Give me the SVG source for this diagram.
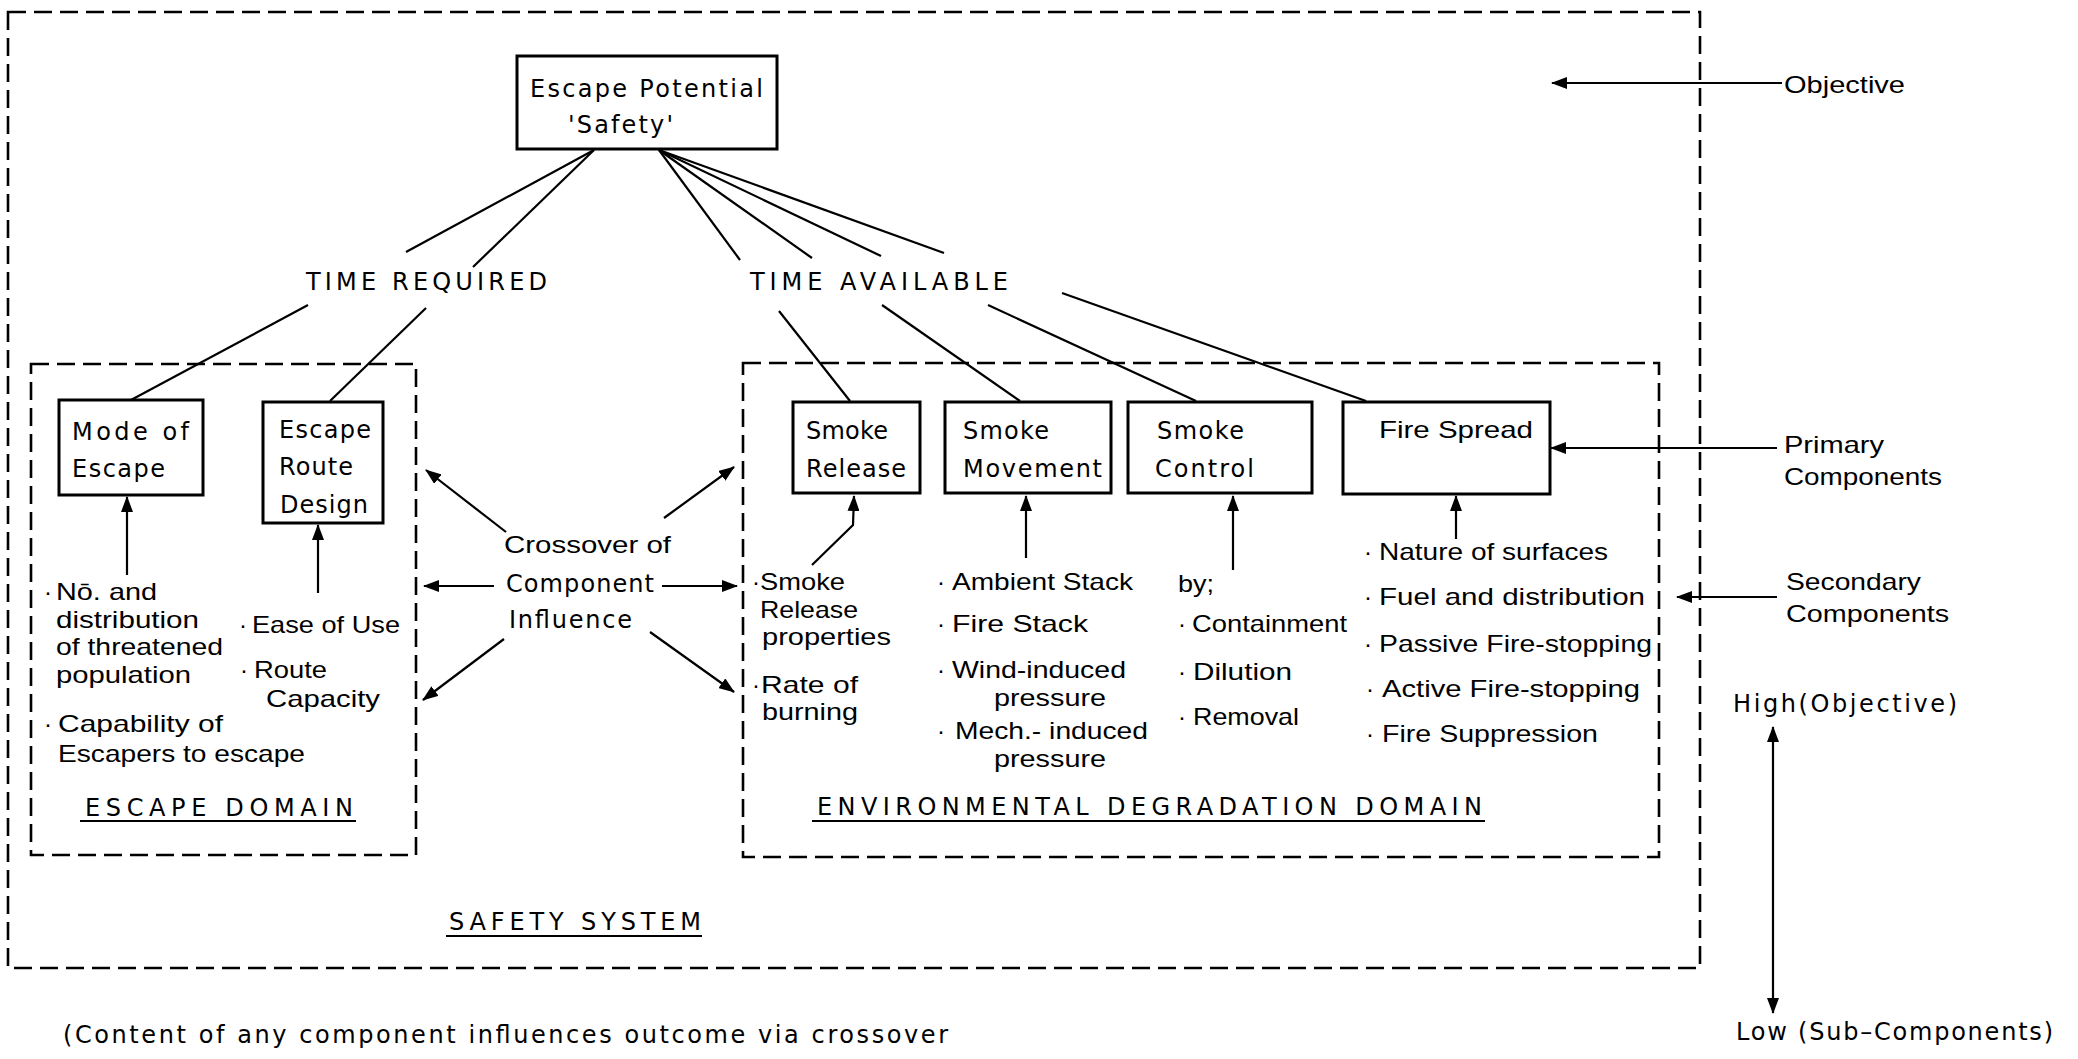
<svg xmlns="http://www.w3.org/2000/svg" width="2078" height="1059" viewBox="0 0 2078 1059">
<style>
  .dash { fill: none; stroke: #000; stroke-width: 2.6; stroke-dasharray: 18 8; }
  .box { fill: #fff; stroke: #000; stroke-width: 3; }
  .ln { fill: none; stroke: #000; stroke-width: 2.2; }
  .arr { fill: none; stroke: #000; stroke-width: 2.2; marker-end: url(#ah); }
  .f { font-family: "DejaVu Sans", "Liberation Sans", sans-serif; font-size: 24px; fill: #000; }
  .h { font-family: "Liberation Sans", Arial, sans-serif; font-size: 24px; fill: #000; }
  .ul { stroke: #000; stroke-width: 2; }
</style>
<defs>
  <marker id="ah" viewBox="0 0 16 12" refX="15" refY="6" markerWidth="16" markerHeight="12" markerUnits="userSpaceOnUse" orient="auto-start-reverse">
    <path d="M0,0 L16,6 L0,12 z" fill="#000"/>
  </marker>
</defs>
<rect width="2078" height="1059" fill="#fff"/>

<!-- domain frames -->
<g id="safety-system">
  <rect class="dash" x="8" y="12" width="1692" height="956"/>
  <text class="f" x="449" y="930" textLength="252" lengthAdjust="spacing">SAFETY SYSTEM</text>
  <line class="ul" x1="446" y1="936" x2="702" y2="936"/>
</g>
<g id="escape-domain">
  <rect class="dash" x="31" y="364" width="385" height="491"/>
  <text class="f" x="85" y="816" textLength="268" lengthAdjust="spacing">ESCAPE DOMAIN</text>
  <line class="ul" x1="80" y1="821" x2="356" y2="821"/>
</g>
<g id="environmental-domain">
  <rect class="dash" x="743" y="363" width="916" height="494"/>
  <text class="f" x="817" y="815" textLength="665" lengthAdjust="spacing">ENVIRONMENTAL DEGRADATION DOMAIN</text>
  <line class="ul" x1="812" y1="821" x2="1485" y2="821"/>
</g>

<!-- connectors -->
<g id="connectors">
  <line class="ln" x1="594" y1="150" x2="406" y2="252"/>
  <line class="ln" x1="594" y1="150" x2="473" y2="267"/>
  <line class="ln" x1="659" y1="150" x2="740" y2="260"/>
  <line class="ln" x1="659" y1="150" x2="812" y2="258"/>
  <line class="ln" x1="659" y1="150" x2="881" y2="256"/>
  <line class="ln" x1="659" y1="150" x2="944" y2="253"/>
  <line class="ln" x1="308" y1="305" x2="131" y2="400"/>
  <line class="ln" x1="426" y1="308" x2="330" y2="401"/>
  <line class="ln" x1="779" y1="311" x2="850" y2="401"/>
  <line class="ln" x1="882" y1="305" x2="1020" y2="401"/>
  <line class="ln" x1="988" y1="305" x2="1196" y2="401"/>
  <line class="ln" x1="1062" y1="293" x2="1366" y2="401"/>
  <!-- secondary components feeding the primary ones -->
  <line class="arr" x1="127" y1="575" x2="127" y2="497"/>
  <line class="arr" x1="318" y1="593" x2="318" y2="525"/>
  <polyline class="arr" points="812,565 853,525 854,496"/>
  <line class="arr" x1="1026" y1="558" x2="1026" y2="496"/>
  <line class="arr" x1="1233" y1="570" x2="1233" y2="496"/>
  <line class="arr" x1="1456" y1="539" x2="1456" y2="496"/>
  <!-- crossover of component influence -->
  <line class="arr" x1="506" y1="532" x2="426" y2="470"/>
  <line class="arr" x1="664" y1="518" x2="734" y2="467"/>
  <line class="arr" x1="494" y1="586" x2="424" y2="586"/>
  <line class="arr" x1="662" y1="586" x2="737" y2="586"/>
  <line class="arr" x1="504" y1="639" x2="423" y2="700"/>
  <line class="arr" x1="650" y1="632" x2="734" y2="692"/>
  <!-- level legend -->
  <line class="arr" x1="1782" y1="83" x2="1552" y2="83"/>
  <line class="arr" x1="1777" y1="448" x2="1551" y2="448"/>
  <line class="arr" x1="1777" y1="597" x2="1677" y2="597"/>
  <line class="arr" x1="1773" y1="1013" x2="1773" y2="727" style="marker-start:url(#ah)"/>
</g>

<!-- objective -->
<g id="escape-potential">
  <rect class="box" x="517" y="56" width="260" height="93"/>
  <text class="f" x="530" y="97" textLength="233" lengthAdjust="spacing">Escape Potential</text>
  <text class="f" x="568" y="133" textLength="105" lengthAdjust="spacing">'Safety'</text>
</g>
<g id="time-required">
  <text class="f" x="306" y="290" textLength="241" lengthAdjust="spacing">TIME  REQUIRED</text>
</g>
<g id="time-available">
  <text class="f" x="750" y="290" textLength="258" lengthAdjust="spacing">TIME  AVAILABLE</text>
</g>

<!-- primary components -->
<g id="mode-of-escape">
  <rect class="box" x="59" y="400" width="144" height="95"/>
  <text class="f" x="72" y="440" textLength="117" lengthAdjust="spacing">Mode of</text>
  <text class="f" x="72" y="477" textLength="93" lengthAdjust="spacing">Escape</text>
</g>
<g id="escape-route-design">
  <rect class="box" x="263" y="402" width="120" height="121"/>
  <text class="f" x="279" y="438" textLength="92" lengthAdjust="spacing">Escape</text>
  <text class="f" x="279" y="475" textLength="74" lengthAdjust="spacing">Route</text>
  <text class="f" x="280" y="513" textLength="88" lengthAdjust="spacing">Design</text>
</g>
<g id="smoke-release">
  <rect class="box" x="793" y="402" width="127" height="91"/>
  <text class="f" x="806" y="439" textLength="82" lengthAdjust="spacing">Smoke</text>
  <text class="f" x="806" y="477" textLength="100" lengthAdjust="spacing">Release</text>
</g>
<g id="smoke-movement">
  <rect class="box" x="945" y="402" width="166" height="91"/>
  <text class="f" x="963" y="439" textLength="86" lengthAdjust="spacing">Smoke</text>
  <text class="f" x="963" y="477" textLength="139" lengthAdjust="spacing">Movement</text>
</g>
<g id="smoke-control">
  <rect class="box" x="1128" y="402" width="184" height="91"/>
  <text class="f" x="1157" y="439" textLength="87" lengthAdjust="spacing">Smoke</text>
  <text class="f" x="1155" y="477" textLength="99" lengthAdjust="spacing">Control</text>
</g>
<g id="fire-spread">
  <rect class="box" x="1343" y="402" width="207" height="92"/>
  <text class="h" x="1379" y="438" textLength="154" lengthAdjust="spacingAndGlyphs">Fire  Spread</text>
</g>

<!-- crossover label -->
<g id="crossover">
  <text class="h" x="504" y="553" textLength="167" lengthAdjust="spacingAndGlyphs">Crossover of</text>
  <text class="f" x="506" y="592" textLength="148" lengthAdjust="spacing">Component</text>
  <text class="f" x="509" y="628" textLength="123" lengthAdjust="spacing">Influence</text>
</g>

<!-- secondary components -->
<g id="mode-factors" class="h">
  <text x="44" y="600">·</text>
  <text x="56" y="600" textLength="101" lengthAdjust="spacingAndGlyphs">Nō. and</text>
  <text x="56" y="628" textLength="143" lengthAdjust="spacingAndGlyphs">distribution</text>
  <text x="56" y="655" textLength="167" lengthAdjust="spacingAndGlyphs">of threatened</text>
  <text x="56" y="683" textLength="135" lengthAdjust="spacingAndGlyphs">population</text>
  <text x="44" y="732">·</text>
  <text x="58" y="732" textLength="165" lengthAdjust="spacingAndGlyphs">Capability of</text>
  <text x="58" y="762" textLength="247" lengthAdjust="spacingAndGlyphs">Escapers to escape</text>
</g>
<g id="route-factors" class="h">
  <text x="239" y="633">·</text>
  <text x="252" y="633" textLength="148" lengthAdjust="spacingAndGlyphs">Ease of Use</text>
  <text x="240" y="678">·</text>
  <text x="254" y="678" textLength="73" lengthAdjust="spacingAndGlyphs">Route</text>
  <text x="266" y="707" textLength="114" lengthAdjust="spacingAndGlyphs">Capacity</text>
</g>
<g id="release-factors" class="h">
  <text x="752" y="590">·</text>
  <text x="760" y="590" textLength="85" lengthAdjust="spacingAndGlyphs">Smoke</text>
  <text x="760" y="618" textLength="98" lengthAdjust="spacingAndGlyphs">Release</text>
  <text x="762" y="645" textLength="129" lengthAdjust="spacingAndGlyphs">properties</text>
  <text x="752" y="693">·</text>
  <text x="761" y="693" textLength="97" lengthAdjust="spacingAndGlyphs">Rate  of</text>
  <text x="762" y="720" textLength="96" lengthAdjust="spacingAndGlyphs">burning</text>
</g>
<g id="movement-factors" class="h">
  <text x="937" y="590">·</text>
  <text x="952" y="590" textLength="181" lengthAdjust="spacingAndGlyphs">Ambient Stack</text>
  <text x="937" y="632">·</text>
  <text x="952" y="632" textLength="136" lengthAdjust="spacingAndGlyphs">Fire  Stack</text>
  <text x="937" y="678">·</text>
  <text x="952" y="678" textLength="174" lengthAdjust="spacingAndGlyphs">Wind-induced</text>
  <text x="994" y="706" textLength="112" lengthAdjust="spacingAndGlyphs">pressure</text>
  <text x="937" y="739">·</text>
  <text x="955" y="739" textLength="193" lengthAdjust="spacingAndGlyphs">Mech.- induced</text>
  <text x="994" y="767" textLength="112" lengthAdjust="spacingAndGlyphs">pressure</text>
</g>
<g id="control-factors" class="h">
  <text x="1178" y="592" textLength="36" lengthAdjust="spacingAndGlyphs">by;</text>
  <text x="1178" y="632">·</text>
  <text x="1192" y="632" textLength="155" lengthAdjust="spacingAndGlyphs">Containment</text>
  <text x="1178" y="680">·</text>
  <text x="1193" y="680" textLength="99" lengthAdjust="spacingAndGlyphs">Dilution</text>
  <text x="1178" y="725">·</text>
  <text x="1193" y="725" textLength="106" lengthAdjust="spacingAndGlyphs">Removal</text>
</g>
<g id="spread-factors" class="h">
  <text x="1364" y="560">·</text>
  <text x="1379" y="560" textLength="229" lengthAdjust="spacingAndGlyphs">Nature of surfaces</text>
  <text x="1364" y="605">·</text>
  <text x="1379" y="605" textLength="266" lengthAdjust="spacingAndGlyphs">Fuel and  distribution</text>
  <text x="1364" y="652">·</text>
  <text x="1379" y="652" textLength="273" lengthAdjust="spacingAndGlyphs">Passive Fire-stopping</text>
  <text x="1366" y="697">·</text>
  <text x="1382" y="697" textLength="258" lengthAdjust="spacingAndGlyphs">Active  Fire-stopping</text>
  <text x="1366" y="742">·</text>
  <text x="1382" y="742" textLength="216" lengthAdjust="spacingAndGlyphs">Fire Suppression</text>
</g>

<!-- level legend -->
<g id="legend-objective">
  <text class="h" x="1784" y="93" textLength="121" lengthAdjust="spacingAndGlyphs">Objective</text>
</g>
<g id="legend-primary">
  <text class="h" x="1784" y="453" textLength="100" lengthAdjust="spacingAndGlyphs">Primary</text>
  <text class="h" x="1784" y="485" textLength="158" lengthAdjust="spacingAndGlyphs">Components</text>
</g>
<g id="legend-secondary">
  <text class="h" x="1786" y="590" textLength="135" lengthAdjust="spacingAndGlyphs">Secondary</text>
  <text class="h" x="1786" y="622" textLength="163" lengthAdjust="spacingAndGlyphs">Components</text>
</g>
<g id="legend-high">
  <text class="f" x="1733" y="712" textLength="224" lengthAdjust="spacing">High(Objective)</text>
</g>
<g id="legend-low">
  <text class="f" x="1736" y="1040" textLength="317" lengthAdjust="spacing">Low (Sub–Components)</text>
</g>

<!-- note -->
<g id="note">
  <text class="f" x="63" y="1043" textLength="885" lengthAdjust="spacing">(Content of any component influences outcome via crossover</text>
</g>
</svg>
